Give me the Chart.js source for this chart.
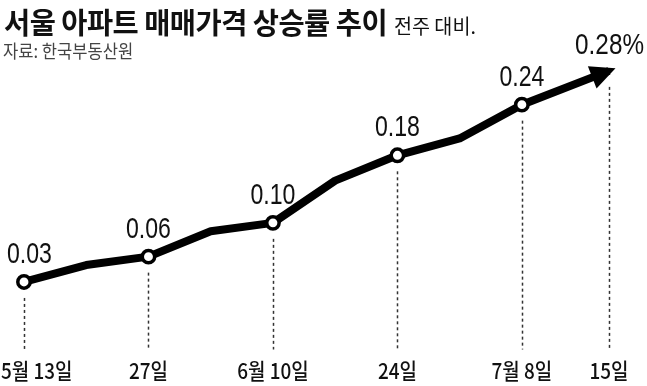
<!DOCTYPE html>
<html>
<head>
<meta charset="utf-8">
<script src="https://cdn.jsdelivr.net/npm/chart.js@4.4.1/dist/chart.umd.min.js"></script>
<style>
  html, body { margin: 0; padding: 0; background: #fff; }
  #wrap { position: relative; width: 647px; height: 386px; overflow: hidden; }
  #chart { position: absolute; left: 0; top: 0; }
  .title { position: absolute; left: 4px; top: 0px; white-space: nowrap;
           font-family: "Noto Sans CJK KR", sans-serif; color: #111;
           transform-origin: 0 0; transform: scaleX(0.98); }
  .title b { font-size: 29px; font-weight: 700; letter-spacing: -0.5px; }
  .title span { font-size: 20px; font-weight: 400; margin-left: 7px; }
  .source { position: absolute; left: 3px; top: 37px; white-space: nowrap;
            font-family: "Noto Sans CJK KR", sans-serif; font-size: 18px; color: #444;
            transform-origin: 0 0; transform: scaleX(0.92); }
</style>
</head>
<body>
<div id="wrap">
  <canvas id="chart" width="647" height="386"></canvas>
  <div class="title"><b>서울 아파트 매매가격 상승률 추이</b><span>전주 대비.</span></div>
  <div class="source">자료: 한국부동산원</div>
</div>
<script>
// weekly rate of change (%), 5/13 .. 7/15
var weeks = ["5월 13일", "5월 20일", "27일", "6월 3일", "6월 10일", "6월 17일", "24일", "7월 1일", "7월 8일", "15일"];
// horizontal position in weeks (last step is drawn a bit wider in the original graphic)
var weekPos = [0, 1, 2, 3, 4, 5, 6, 7, 8, 9.4];
var rates = [0.03, 0.05, 0.06, 0.09, 0.10, 0.15, 0.18, 0.20, 0.24, 0.28];
// which weeks get a marker, value label and date label
var shown = [true, false, true, false, true, false, true, false, true, true];
var valueLabels = ["0.03", "", "0.06", "", "0.10", "", "0.18", "", "0.24", "0.28%"];

var points = weekPos.map(function (x, i) { return { x: x, y: rates[i] }; });

function condensedText(ctx, text, x, y, scale, align) {
    ctx.save();
    ctx.translate(x, y);
    ctx.scale(scale, 1);
    ctx.textAlign = align || 'center';
    ctx.fillText(text, 0, 0);
    ctx.restore();
}

var decorPlugin = {
    id: 'decor',
    beforeDatasetsDraw: function (chart) {
        var ctx = chart.ctx;
        var meta = chart.getDatasetMeta(0);
        var bottom = chart.chartArea.bottom;
        ctx.save();
        ctx.strokeStyle = '#333';
        ctx.lineWidth = 1.5;
        ctx.setLineDash([3, 3]);
        meta.data.forEach(function (pt, i) {
            if (!shown[i]) return;
            ctx.beginPath();
            ctx.moveTo(Math.round(pt.x) + 0.5, pt.y + 16);
            ctx.lineTo(Math.round(pt.x) + 0.5, bottom);
            ctx.stroke();
        });
        ctx.restore();

        // date labels under the dashed lines
        ctx.save();
        ctx.fillStyle = '#111';
        ctx.font = '500 22px "Noto Sans CJK KR", sans-serif';
        meta.data.forEach(function (pt, i) {
            if (!shown[i]) return;
            var sc = 0.86;
            var w = ctx.measureText(weeks[i]).width * sc;
            var cx = Math.max(1 + w / 2, Math.min(chart.width - 2 - w / 2, pt.x));
            condensedText(ctx, weeks[i], cx, bottom + 29, sc);
        });
        ctx.restore();
    },
    afterDatasetsDraw: function (chart) {
        var ctx = chart.ctx;
        var meta = chart.getDatasetMeta(0);
        var n = meta.data.length;
        var a = meta.data[n - 2], b = meta.data[n - 1];
        var ang = Math.atan2(b.y - a.y, b.x - a.x);
        var tipX = b.x + Math.cos(ang) * 7, tipY = b.y + Math.sin(ang) * 7;
        var len = 25, half = 12;
        var bx = tipX - Math.cos(ang) * len, by = tipY - Math.sin(ang) * len;
        ctx.save();
        ctx.fillStyle = '#000';
        ctx.beginPath();
        ctx.moveTo(tipX, tipY);
        ctx.lineTo(bx - Math.sin(ang) * half, by + Math.cos(ang) * half);
        ctx.lineTo(bx + Math.sin(ang) * half, by - Math.cos(ang) * half);
        ctx.closePath();
        ctx.fill();
        ctx.restore();

        // value labels
        ctx.save();
        ctx.fillStyle = '#111';
        meta.data.forEach(function (pt, i) {
            if (!valueLabels[i]) return;
            if (i === n - 1) {
                ctx.font = '30px "Liberation Sans", sans-serif';
                condensedText(ctx, valueLabels[i], chart.width - 3, 54, 0.81, 'right');
            } else {
                ctx.font = '30px "Liberation Sans", sans-serif';
                var sc = 0.77;
                var w = ctx.measureText(valueLabels[i]).width * sc;
                var cx = Math.max(7 + w / 2, pt.x);
                condensedText(ctx, valueLabels[i], cx, pt.y - 19, sc);
            }
        });
        ctx.restore();
    }
};

new Chart(document.getElementById('chart'), {
    type: 'line',
    data: {
        datasets: [{
            data: points,
            borderColor: '#000',
            borderWidth: 8,
            borderJoinStyle: 'round',
            borderCapStyle: 'butt',
            tension: 0,
            fill: false,
            clip: false,
            pointRadius: shown.map(function (s, i) { return s && i < shown.length - 1 ? 6.2 : 0; }),
            pointBackgroundColor: '#fff',
            pointBorderColor: '#000',
            pointBorderWidth: 3.5
        }]
    },
    options: {
        responsive: false,
        animation: false,
        events: [],
        layout: { padding: { left: 24, right: 38, top: 54, bottom: 36.5 } },
        plugins: { legend: { display: false }, tooltip: { enabled: false } },
        scales: {
            x: { type: 'linear', display: false, min: 0, max: 9.4 },
            y: { display: false, min: -0.05, max: 0.30 }
        }
    },
    plugins: [decorPlugin]
});
</script>
</body>
</html>
